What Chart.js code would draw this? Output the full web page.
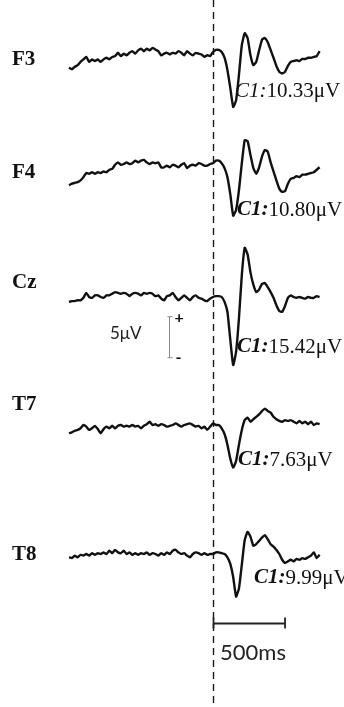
<!DOCTYPE html>
<html>
<head>
<meta charset="utf-8">
<script src="https://cdn.jsdelivr.net/npm/chart.js@4.4.0/dist/chart.umd.min.js"></script>
<style>
  html, body { margin: 0; padding: 0; background: #fff; }
  #erp { display: block; }
</style>
</head>
<body>
<canvas id="erp" width="344" height="707"></canvas>
<script>
// time axis (ms, 0 = stimulus onset)
const times = [
  -1000, -980, -960, -940, -920, -900, -880, -860, -840, -820,
  -800, -780, -760, -740, -720, -700, -680, -660, -640, -620,
  -600, -580, -560, -540, -520, -500, -480, -460, -440, -420,
  -400, -380, -360, -340, -320, -300, -280, -260, -240, -220,
  -200, -180, -160, -140, -120, -100, -80, -60, -40, -20,
  0, 20, 40, 60, 80, 100, 120, 140, 160, 180,
  200, 220, 240, 260, 280, 300, 320, 340, 360, 380,
  400, 420, 440, 460, 480, 500, 520, 540, 560, 580,
  600, 620, 640, 660, 680, 700, 720, 740
];

const channels = ['F3', 'F4', 'Cz', 'T7', 'T8'];

// amplitudes in µV
const f3 = [
  -1.9, -2.1, -1.8, -1.6, -1.2, -0.9, -0.6, -1.2, -0.9, -1.1,
  -0.9, -1.2, -0.9, -0.7, -0.9, -0.6, -0.5, -0.1, -0.5, -0.2,
  -0.4, -0.1, 0.1, -0.2, 0.2, 0.4, 0.1, 0.4, 0.2, 0.5,
  0.3, 0.1, -0.4, -0.2, -0.1, -0.3, -0.1, -0.2, 0.1, -0.1,
  -0.4, 0.1, -0.2, -0.4, -0.1, -0.2, -0.3, -0.6, -0.4, -0.5,
  0, 0.25, 0.25, 0, -0.7, -2.2, -4.4, -6.7, -5.9, -2.8,
  0.85, 2.3, 1.7, -0.4, -1.6, -1.2, 0.2, 1.5, 1.7, 1.2,
  0.25, -0.7, -1.7, -2.4, -2.6, -2.4, -1.7, -1.2, -1.1, -1.0,
  -1.1, -0.85, -0.85, -0.7, -0.7, -0.6, -0.5, 0.1
];
const f4 = [
  -2.6, -2.4, -2.3, -2.2, -2.0, -1.6, -1.1, -1.2, -1.0, -1.2,
  -1.0, -1.1, -0.9, -1.0, -0.7, -0.6, -0.1, 0.2, -0.1, 0,
  0.2, 0, 0.1, 0.4, 0.2, 0.4, 0.5, 0.2, 0, 0.2,
  0.1, 0.2, -0.4, -0.4, -0.2, -0.4, -0.1, -0.2, -0.4, -0.1,
  0.1, -0.5, -0.2, -0.1, -0.2, 0.1, 0, -0.2, -0.2, 0,
  0.1, 0.4, 0.4, 0.1, -0.5, -1.6, -3.7, -6.3, -5.6, -3.2,
  0.1, 2.9, 2.8, 1.1, -0.5, -1.2, -0.4, 0.9, 1.7, 1.5,
  0.2, -0.9, -2.0, -3.0, -3.4, -3.3, -2.4, -1.8, -1.7, -1.5,
  -1.6, -1.3, -1.3, -1.2, -1.1, -1.0, -0.7, -0.4
];
const cz = [
  -0.6, -0.5, -0.5, -0.4, -0.4, -0.1, 0.5, 0, -0.1, 0.2,
  0.2, 0, -0.1, 0.2, 0.2, 0.4, 0.6, 0.5, 0.4, 0.5,
  0.4, 0.1, 0.4, 0.5, 0.4, 0.2, 0.5, 0.4, 0.5, 0.4,
  0.1, 0.2, -0.2, -0.4, 0.1, 0.2, 0.5, 0, -0.4, -0.1,
  0.2, -0.1, -0.4, 0, 0.2, -0.1, -0.2, -0.4, -0.5, -0.2,
  0, 0.1, 0.1, 0, -0.6, -1.8, -5.2, -8.3, -6.7, -2.6,
  2.7, 6.0, 5.2, 3.0, 1.5, 0.6, 0.9, 1.6, 1.7, 1.2,
  0.6, -0.1, -1.0, -1.7, -1.8, -1.1, -0.1, 0.2, 0, -0.1,
  0, -0.1, -0.2, 0, -0.1, -0.1, 0.1, 0
];
const t7 = [
  -1.0, -0.9, -0.7, -0.6, -0.4, 0, -0.2, -0.6, -0.4, -0.1,
  -0.5, -1.0, -0.5, -0.2, -0.4, -0.1, -0.4, -0.1, 0, -0.2,
  -0.1, -0.2, 0, -0.2, -0.1, -0.4, -0.1, 0.1, 0.4, 0,
  0.1, -0.1, 0.1, 0, -0.2, -0.1, 0, 0.2, 0, -0.2,
  0, 0.1, 0.2, 0, -0.2, -0.1, -0.4, -0.2, -0.6, -0.2,
  0.2, 0, 0, -0.4, -1.1, -2.4, -4.1, -5.2, -4.4, -2.4,
  -0.6, 0.6, 0.9, 0.4, 0.7, 1.0, 1.3, 1.7, 2.0, 1.7,
  1.5, 1.0, 0.7, 0.5, 0.4, 0.6, 0.5, 0.6, 0.4, 0.2,
  0.5, 0.2, 0.4, 0.1, 0.4, 0, 0.2, 0.1
];
const t8 = [
  -0.4, -0.5, -0.2, -0.4, -0.1, -0.2, 0, -0.2, 0.1, -0.1,
  0.1, 0, 0.2, 0, 0.4, 0.1, 0.5, 0.2, 0.1, 0.4,
  0, 0.2, -0.1, 0.1, -0.1, 0.1, 0, 0.2, -0.1, 0.1,
  0, -0.2, 0.1, -0.1, 0.2, 0, 0.4, 0.5, 0.2, 0,
  0.1, -0.2, -0.4, 0, 0.2, 0.1, -0.1, 0.1, -0.1, 0,
  0, 0.2, 0.2, 0.1, 0, -0.4, -1.2, -2.8, -5.2, -4.2,
  -1.3, 1.7, 2.7, 2.1, 1.0, 1.2, 1.6, 2.0, 2.3, 1.8,
  1.2, 0.9, 0.5, 0, -0.7, -1.1, -0.9, -0.7, -0.9, -0.6,
  -0.7, -0.5, -0.6, -0.4, -0.2, 0.2, -0.5, -0.1
];

const c1Amplitudes = [10.33, 10.80, 15.42, 7.63, 9.99];
const scaleBarUV = 5;
const scaleBarMs = 500;

// layout (pixels)
const W = 344, H = 707;
const pxPerUV = 8.2;
const baselinePx = [52, 164, 297, 425, 554];
const labelY = [60, 173, 283, 405, 555];
const noteX = [235, 237, 237, 238, 254];
const noteY = [91, 210, 347, 460, 578];
const noteBold = [false, true, true, true, true];

const series = [f3, f4, cz, t7, t8];

const yScales = {};
channels.forEach((ch, i) => {
  const max = baselinePx[i] / pxPerUV;
  yScales['y' + i] = {
    type: 'linear',
    display: false,
    min: max - H / pxPerUV,
    max: max
  };
});

const serif = '"Liberation Serif", "Times New Roman", serif';

const overlay = {
  id: 'overlay',
  beforeDatasetsDraw(chart) {
    const ctx = chart.ctx;
    const x0 = Math.round(chart.scales.x.getPixelForValue(0)) + 0.5;
    ctx.save();
    ctx.strokeStyle = '#1a1a1a';
    ctx.lineWidth = 1.4;
    ctx.setLineDash([7, 5]);
    ctx.beginPath();
    ctx.moveTo(x0, 0);
    ctx.lineTo(x0, chart.height);
    ctx.stroke();
    ctx.restore();
  },
  afterDatasetsDraw(chart) {
    const ctx = chart.ctx;
    const x = chart.scales.x;
    ctx.save();
    ctx.fillStyle = '#111';
    ctx.textBaseline = 'middle';
    ctx.textAlign = 'left';

    channels.forEach((ch, i) => {
      ctx.font = 'bold 21px ' + serif;
      ctx.fillText(ch, 12, labelY[i]);

      const head = 'C1:';
      ctx.font = (noteBold[i] ? 'italic bold ' : 'italic ') + '21px ' + serif;
      ctx.fillText(head, noteX[i], noteY[i]);
      const w = ctx.measureText(head).width;
      ctx.font = '21px ' + serif;
      ctx.fillText(c1Amplitudes[i].toFixed(2) + 'μV', noteX[i] + w, noteY[i]);
    });

    // voltage scale bar on the Cz axis
    const yc = chart.scales.y2;
    const bx = Math.round(x.getPixelForValue(-305)) + 0.5;
    const top = yc.getPixelForValue(-2.4);
    const bot = yc.getPixelForValue(-2.4 - scaleBarUV);
    ctx.strokeStyle = '#8a8a8a';
    ctx.lineWidth = 1;
    ctx.beginPath();
    ctx.moveTo(bx, top); ctx.lineTo(bx, bot);
    ctx.moveTo(bx - 2, top); ctx.lineTo(bx + 3, top);
    ctx.moveTo(bx - 2, bot); ctx.lineTo(bx + 3, bot);
    ctx.stroke();
    ctx.fillStyle = '#111';
    ctx.font = 'bold 16px Lato, sans-serif';
    ctx.fillText('+', bx + 5, top + 1);
    ctx.fillText('-', bx + 6, bot);
    ctx.fillStyle = '#222';
    ctx.font = '17px Lato, sans-serif';
    ctx.fillText(scaleBarUV + 'μV', 110, (top + bot) / 2 - 4);

    // time scale bar below T8
    const yt = chart.scales.y4;
    const ty = Math.round(yt.getPixelForValue(-8.4)) + 0.5;
    const xa = x.getPixelForValue(0);
    const xb = x.getPixelForValue(scaleBarMs);
    ctx.strokeStyle = '#222';
    ctx.lineWidth = 1.8;
    ctx.beginPath();
    ctx.moveTo(xa, ty); ctx.lineTo(xb, ty);
    ctx.moveTo(xa + 0.5, ty - 6); ctx.lineTo(xa + 0.5, ty + 5);
    ctx.moveTo(xb, ty - 6); ctx.lineTo(xb, ty + 5);
    ctx.stroke();
    ctx.fillStyle = '#222';
    ctx.font = '22px Lato, sans-serif';
    ctx.fillText(scaleBarMs + 'ms', xa + 7, ty + 29);
    ctx.restore();
  }
};

new Chart(document.getElementById('erp').getContext('2d'), {
  type: 'line',
  data: {
    labels: times,
    datasets: channels.map((ch, i) => ({
      label: ch,
      data: series[i],
      yAxisID: 'y' + i,
      borderColor: '#111',
      borderWidth: 2.4,
      pointRadius: 0,
      tension: 0.15,
      clip: false
    }))
  },
  options: {
    responsive: false,
    animation: false,
    devicePixelRatio: 1,
    layout: { padding: { left: 69, right: 24.4, top: 0, bottom: 0 } },
    scales: Object.assign({
      x: { type: 'linear', display: false, min: -1000, max: 740 }
    }, yScales),
    plugins: {
      legend: { display: false },
      tooltip: { enabled: false }
    }
  },
  plugins: [overlay]
});
</script>
</body>
</html>
